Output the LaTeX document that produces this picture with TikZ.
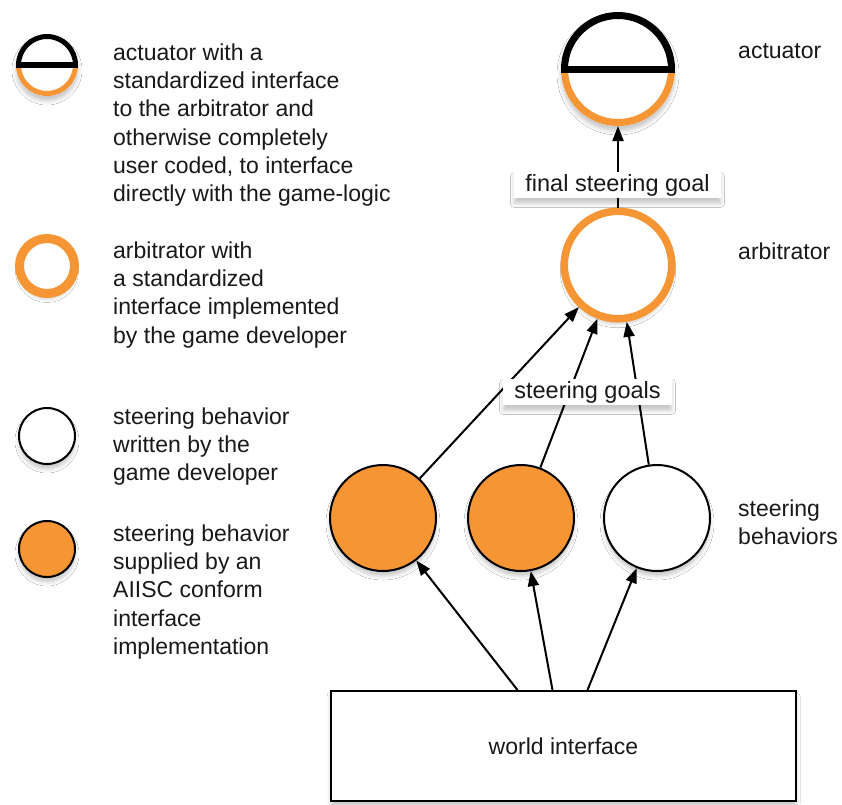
\documentclass[tikz,border=0pt]{standalone}
\usepackage{fontspec}
\setmainfont{Liberation Sans}
\usetikzlibrary{arrows.meta,shadows.blur,calc}
\definecolor{aorange}{RGB}{246,149,52}
\definecolor{txtc}{RGB}{25,25,25}
\begin{document}
\begin{tikzpicture}[x=1pt,y=-1pt,
  every node/.style={font=\fontsize{23}{28.3}\selectfont, text=txtc},
  shad/.style={blur shadow={shadow xshift=0pt,shadow yshift=-5pt,shadow blur radius=4pt,shadow opacity=22}},
  behav/.style={circle, draw=black, line width=2pt, minimum size=106pt, inner sep=0pt, shad},
  orangebehav/.style={behav, fill=aorange},
  whitebehav/.style={behav, fill=white},
  arbit/.style={circle, draw=aorange, fill=white, line width=7.5pt, minimum size=107.5pt, inner sep=0pt, shad},
  actbase/.style={circle, draw=none, fill=white, minimum size=114pt, inner sep=0pt, outer sep=0pt, shad},
  legbehav/.style={circle, draw=black, line width=2pt, minimum size=56pt, inner sep=0pt, shad},
  legarbit/.style={circle, draw=aorange, fill=white, line width=9pt, minimum size=55pt, inner sep=0pt, shad},
  legact/.style={circle, draw=none, fill=white, minimum size=62pt, inner sep=0pt, outer sep=0pt, shad},
  conn/.style={line width=2pt, -{Triangle[length=15pt,width=11pt]}},
  tag/.style={fill=white, draw=none, inner xsep=11pt, inner ysep=2.5pt, shad, font=\fontsize{23.5}{28}\selectfont},
  legtext/.style={anchor=north west, align=left, inner sep=0pt},
  sidelabel/.style={anchor=base west, inner sep=0pt},
  worldbox/.style={draw=black, line width=2pt, fill=white, minimum width=465pt, minimum height=110pt, inner sep=0pt, shad}
]
\useasboundingbox[fill=white] (0,0) rectangle (842,804);

% ---------- legend ----------
\node[legact] (lact) at (47,65) {};
\draw[aorange, line width=5pt] ($(lact.center)+(-28.5,0)$) arc[start angle=180, end angle=360, radius=28.5pt];
\draw[black, line width=5pt] ($(lact.center)+(-28.5,0)$) arc[start angle=180, end angle=0, radius=28.5pt];
\draw[black, line width=5.5pt] ($(lact.center)+(-31,0)$) -- ($(lact.center)+(31,0)$);
\node[legtext] (tact) at (113,43.5) {actuator with a\\standardized interface\\to the arbitrator and\\otherwise completely\\user coded, to interface\\directly with the game-logic};

\node[legarbit] (larb) at (47,266) {};
\node[legtext] (tarb) at (113,241.5) {arbitrator with\\a standardized\\interface implemented\\by the game developer};

\node[legbehav, fill=white] (lwhite) at (47,436) {};
\node[legtext] (twhite) at (113,407.5) {steering behavior\\written by the\\game developer};

\node[legbehav, fill=aorange] (lorange) at (47,549) {};
\node[legtext] (torange) at (113,524.5) {steering behavior\\supplied by an\\AIISC conform\\interface\\implementation};

% ---------- main diagram ----------
\node[actbase] (act) at (618,69) {};
\draw[aorange, line width=7pt] ($(act.center)+(-53.5,0)$) arc[start angle=180, end angle=360, radius=53.5pt];
\draw[black, line width=7pt] ($(act.center)+(-53.5,0)$) arc[start angle=180, end angle=0, radius=53.5pt];
\draw[black, line width=7pt] ($(act.center)+(-57,0)$) -- ($(act.center)+(57,0)$);

\node[arbit] (arb) at (618,265) {};

\node[orangebehav] (c1) at (383,518) {};
\node[orangebehav] (c2) at (521,518) {};
\node[whitebehav] (c3) at (657,518) {};

\node[worldbox] (wi) at (563.5,746) {world interface};
\coordinate (w1) at ($(wi.north)+(-46,0)$);
\coordinate (w2) at ($(wi.north)+(-11,0)$);
\coordinate (w3) at ($(wi.north)+(24,0)$);

\draw[conn] (w1) -- (c1);
\draw[conn] (w2) -- (c2);
\draw[conn] (w3) -- (c3);

\draw[conn] (c1) -- (arb);
\draw[conn] (c2) -- (arb);
\draw[conn] (c3) -- (arb);
\draw[conn] (arb) -- (act);

\node[tag] (fsg) at (617.5,185) {final steering goal};
\node[tag] (sg) at (587.5,392) {steering goals};

\node[sidelabel] (lbact) at (738,58) {actuator};
\node[sidelabel] (lbarb) at (738,259) {arbitrator};
\node[legtext] (lbsb) at (738,499.5) {steering\\behaviors};
\end{tikzpicture}
\end{document}
